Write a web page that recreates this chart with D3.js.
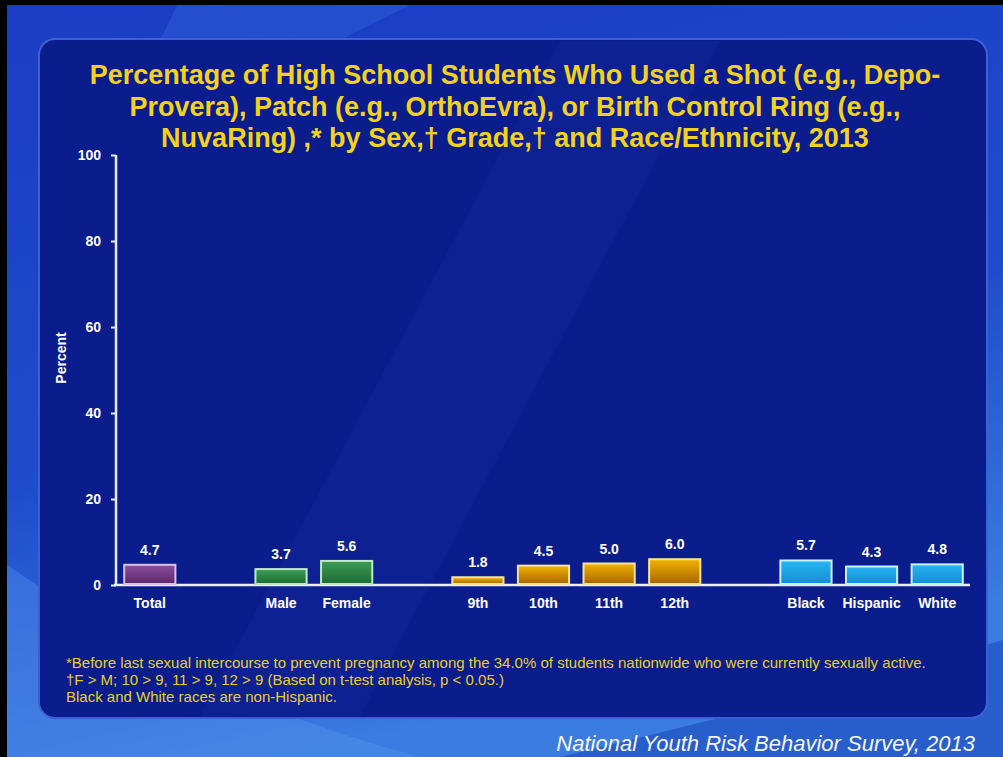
<!DOCTYPE html>
<html><head><meta charset="utf-8">
<script src="https://cdn.jsdelivr.net/npm/d3@7"></script>
<style>html,body{margin:0;padding:0;background:#000;}svg{display:block;}</style>
</head><body>
<script>
const categories = ["Total","Male","Female","9th","10th","11th","12th","Black","Hispanic","White"];
const values = [4.7,3.7,5.6,1.8,4.5,5.0,6.0,5.7,4.3,4.8];
const groups = ["total","sex","sex","grade","grade","grade","grade","race","race","race"];
const slots = ["Total","gap1","Male","Female","gap2","9th","10th","11th","12th","gap3","Black","Hispanic","White"];
const yTicks = [0,20,40,60,80,100];
const titleLines = ["Percentage of High School Students Who Used a Shot (e.g., Depo-",
  "Provera), Patch (e.g., OrthoEvra), or Birth Control Ring (e.g.,",
  "NuvaRing) ,* by Sex,\u2020 Grade,\u2020 and Race/Ethnicity, 2013"];
const footnotes = ["*Before last sexual intercourse to prevent pregnancy among the 34.0% of students nationwide who were currently sexually active.",
  "\u2020F > M; 10 > 9, 11 > 9, 12 > 9 (Based on t-test analysis, p < 0.05.)",
  "Black and White races are non-Hispanic."];
const source = "National Youth Risk Behavior Survey, 2013";

const W = 1003, H = 757;
const FONT = "Liberation Sans, Arial, sans-serif";
const svg = d3.select("body").append("svg").attr("width", W).attr("height", H);
const defs = svg.append("defs");

const bg = defs.append("linearGradient").attr("id","bg").attr("x1",0).attr("y1",0).attr("x2",0.3).attr("y2",1);
bg.append("stop").attr("offset",0).attr("stop-color","#1a3cc4");
bg.append("stop").attr("offset",0.6).attr("stop-color","#1f4ccc");
bg.append("stop").attr("offset",1).attr("stop-color","#3a7ce0");

const colors = {
  total:{top:"#8e4f9e",bot:"#5a2868",stroke:"#dcc0e6"},
  sex:{top:"#3d9e56",bot:"#1c6a32",stroke:"#bfe8c8"},
  grade:{top:"#f2b400",bot:"#a86400",stroke:"#f8e39a"},
  race:{top:"#27b4f2",bot:"#138ed4",stroke:"#c8f2ff"}
};
Object.entries(colors).forEach(([k,c])=>{
  const g = defs.append("linearGradient").attr("id","g-"+k).attr("x1",0).attr("y1",0).attr("x2",0).attr("y2",1);
  g.append("stop").attr("offset",0).attr("stop-color",c.top);
  g.append("stop").attr("offset",1).attr("stop-color",c.bot);
});

// background
svg.append("rect").attr("x",0).attr("y",0).attr("width",W).attr("height",H).attr("fill","url(#bg)");
svg.append("path").attr("d","M0,757 L0,560 Q200,700 420,757 Z").attr("fill","#5a9af0").attr("opacity",0.35);
svg.append("path").attr("d","M180,0 L420,0 L300,60 L150,60 Z").attr("fill","#3a6ae0").attr("opacity",0.35);
svg.append("path").attr("d","M560,757 Q800,700 1003,640 L1003,757 Z").attr("fill","#1030b0").attr("opacity",0.4);
svg.append("rect").attr("x",0).attr("y",0).attr("width",7).attr("height",H).attr("fill","#000");
svg.append("rect").attr("x",0).attr("y",0).attr("width",W).attr("height",5).attr("fill","#000");

// panel
svg.append("rect").attr("x",39).attr("y",39).attr("width",948).attr("height",679).attr("rx",16)
  .attr("fill","#0b1d8c").attr("stroke","#3d5fd4").attr("stroke-width",2);
svg.append("path").attr("d","M560,41 L720,41 L360,716 L200,716 Z").attr("fill","#1430a8").attr("opacity",0.25);

// title
const title = svg.append("text").attr("text-anchor","middle")
  .attr("font-family",FONT).attr("font-weight","bold")
  .attr("font-size",27).attr("fill","#f2d21e");
titleLines.forEach((t,i)=>title.append("tspan").attr("x",515).attr("y",84+i*31.5).text(t));

// scales
const x = d3.scaleBand().domain(slots).range([117,970]).paddingInner(0.22).paddingOuter(0.11);
const y = d3.scaleLinear().domain([0,100]).range([585,155]);

// y axis
const yAxis = svg.append("g").attr("transform","translate(116,0)")
  .call(d3.axisLeft(y).tickValues(yTicks).tickSize(5).tickPadding(10));
yAxis.select(".domain").attr("stroke","#e8eeff").attr("stroke-width",2.5).attr("d","M0,"+y(100)+"V"+y(0));
yAxis.selectAll(".tick line").attr("stroke","#e8eeff").attr("stroke-width",2);
yAxis.selectAll(".tick text").attr("fill","#ffffff").attr("font-size",14).attr("font-weight","bold")
  .attr("font-family",FONT);

// x axis
const xAxis = svg.append("g").attr("transform","translate(0,"+y(0)+")")
  .call(d3.axisBottom(x).tickValues(categories).tickSize(0).tickPadding(13));
xAxis.select(".domain").attr("stroke","#e8eeff").attr("stroke-width",2.5).attr("d","M114,0H970");
xAxis.selectAll(".tick text").attr("fill","#ffffff").attr("font-size",14).attr("font-weight","bold")
  .attr("font-family",FONT);

// y label
svg.append("text").attr("transform","translate(66,358) rotate(-90)").attr("text-anchor","middle")
  .attr("fill","#fff").attr("font-size",14).attr("font-weight","bold")
  .attr("font-family",FONT).text("Percent");

// bars
const data = categories.map((c,i)=>({c, v:values[i], g:groups[i]}));
svg.append("g").selectAll("rect").data(data).join("rect")
  .attr("x",d=>x(d.c)).attr("width",x.bandwidth())
  .attr("y",d=>y(d.v)).attr("height",d=>y(0)-y(d.v)-1)
  .attr("fill",d=>"url(#g-"+d.g+")").attr("stroke",d=>colors[d.g].stroke).attr("stroke-width",2);

svg.append("g").selectAll("text").data(data).join("text")
  .attr("x",d=>x(d.c)+x.bandwidth()/2).attr("y",d=>y(d.v)-10)
  .attr("text-anchor","middle").attr("fill","#fff").attr("font-size",14).attr("font-weight","bold")
  .attr("font-family",FONT).text(d=>d.v.toFixed(1));

// footnotes
const fn = svg.append("text").attr("fill","#e6cf2a").attr("font-size",15)
  .attr("font-family",FONT);
footnotes.forEach((t,i)=>fn.append("tspan").attr("x",66).attr("y",668+i*17).text(t));

// source
svg.append("text").attr("x",975).attr("y",751).attr("text-anchor","end")
  .attr("fill","#f4f6ff").attr("font-size",22).attr("font-style","italic")
  .attr("font-family",FONT).text(source);
</script>
</body></html>
